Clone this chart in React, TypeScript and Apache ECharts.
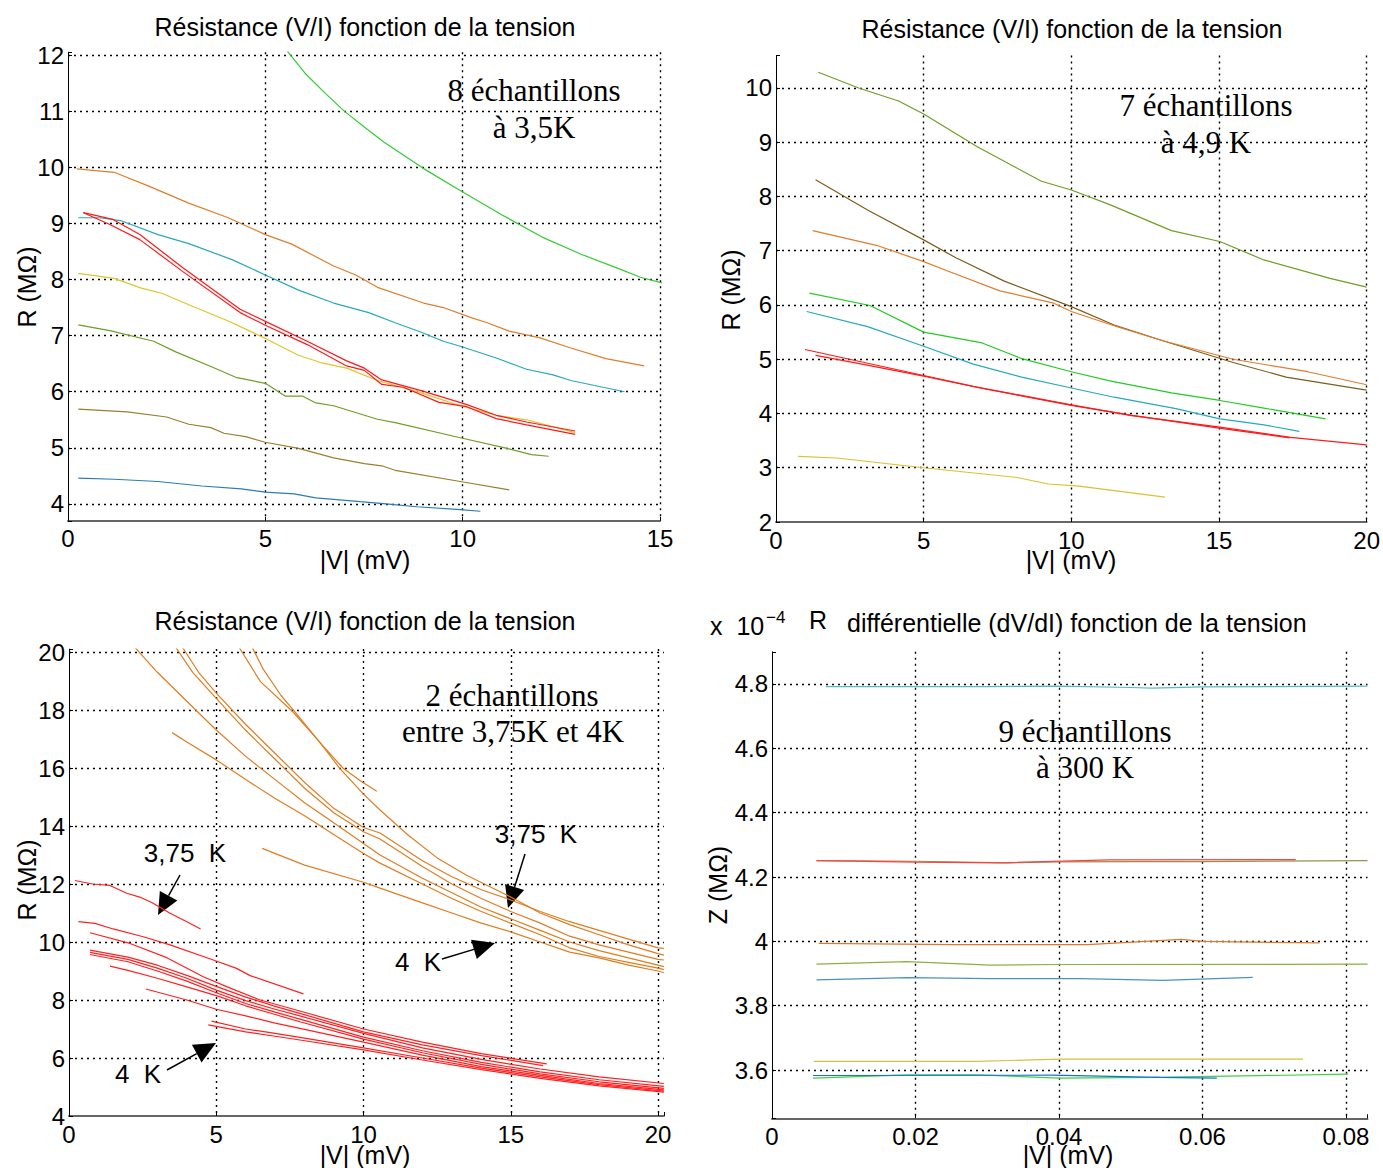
import React, { useEffect, useRef } from 'react';
import * as echarts from 'echarts';

// ---------- Panel 1 : 8 échantillons à 3,5K ----------
const p1Green = [[5.5,12.12],[6.0,11.68],[6.5,11.33],[7.0,11.0],[7.5,10.72],[8.0,10.45],[9.0,9.98],[10.0,9.56],[11.0,9.15],[12.0,8.76],[13.0,8.45],[14.0,8.18],[14.5,8.04],[15.05,7.94]];
const p1Orange = [[0.22,9.97],[1.17,9.91],[2.06,9.66],[3.06,9.36],[4.06,9.1],[5.0,8.8],[5.67,8.63],[6.73,8.24],[7.29,8.08],[7.84,7.86],[9.01,7.58],[9.51,7.5],[10.18,7.33],[10.62,7.23],[11.18,7.08],[11.96,6.96],[12.74,6.78],[13.63,6.59],[14.6,6.46]];
const p1Cyan = [[0.26,9.1],[0.8,9.1],[1.33,9.05],[2.28,8.8],[3.06,8.64],[4.17,8.35],[5.0,8.08],[5.84,7.81],[6.73,7.58],[7.62,7.41],[8.29,7.23],[8.95,7.06],[9.51,6.9],[9.94,6.81],[10.85,6.6],[11.62,6.4],[12.29,6.3],[12.74,6.2],[14.1,6.0]];
const p1RedA = [[0.39,9.19],[1.14,9.07],[1.82,8.8],[2.91,8.21],[4.36,7.47],[5.04,7.24],[6.06,6.9],[7.06,6.55],[7.51,6.42],[7.95,6.21],[8.95,6.02],[10.07,5.78],[10.85,5.58],[11.62,5.46],[12.85,5.3]];
const p1RedB = [[0.39,9.19],[1.06,8.98],[1.82,8.71],[2.91,8.14],[4.36,7.41],[5.04,7.17],[6.06,6.84],[7.06,6.46],[7.51,6.38],[7.95,6.13],[8.5,6.08],[9.4,5.81],[10.07,5.74],[10.85,5.52],[11.62,5.41],[12.85,5.24]];
const p1Yellow = [[0.26,8.11],[1.17,8.02],[1.84,7.85],[2.39,7.75],[3.06,7.55],[4.06,7.26],[5.0,6.95],[5.84,6.65],[6.4,6.52],[7.06,6.42],[7.84,6.2],[8.95,5.98],[9.94,5.75],[10.85,5.58],[11.62,5.5],[12.85,5.27]];
const p1Olive = [[0.26,7.19],[1.06,7.09],[2.17,6.9],[2.73,6.71],[3.62,6.45],[4.28,6.25],[5.0,6.15],[5.51,5.92],[5.95,5.92],[6.28,5.8],[6.73,5.75],[7.84,5.51],[8.29,5.45],[9.94,5.18],[11.07,5.0],[11.74,4.88],[12.18,4.85]];
const p1Brown = [[0.26,5.69],[1.5,5.64],[2.5,5.55],[3.06,5.42],[3.62,5.36],[3.95,5.26],[4.5,5.2],[5.0,5.1],[5.84,4.99],[6.73,4.82],[7.51,4.72],[7.95,4.68],[8.29,4.6],[9.94,4.4],[11.18,4.25]];
const p1Blue = [[0.26,4.46],[1.17,4.44],[2.28,4.4],[3.39,4.32],[4.39,4.27],[5.0,4.21],[5.73,4.18],[6.28,4.11],[7.4,4.04],[8.06,4.0],[8.84,3.95],[9.94,3.9],[10.45,3.87]];

// ---------- Panel 2 : 7 échantillons à 4,9 K ----------
const p2Olive = [[1.43,10.29],[2.8,10.0],[4.15,9.76],[5.0,9.52],[6.83,8.91],[8.99,8.28],[10.0,8.12],[11.3,7.85],[13.39,7.37],[15.03,7.17],[16.52,6.83],[18.76,6.49],[20,6.33]];
const p2Brown = [[1.34,8.31],[3.1,7.75],[5.0,7.2],[6.09,6.87],[7.73,6.44],[10.0,5.97],[11.45,5.63],[13.1,5.34],[15.48,4.94],[17.27,4.67],[20,4.43]];
const p2Orange = [[1.24,7.37],[3.4,7.1],[5.0,6.8],[5.79,6.63],[7.58,6.26],[9.37,6.04],[10.0,5.88],[11.6,5.59],[13.1,5.34],[15.48,5.0],[18.0,4.77],[20,4.53]];
const p2Green = [[1.13,6.22],[3.18,5.99],[5.0,5.5],[6.98,5.3],[8.32,5.01],[10.0,4.77],[11.3,4.6],[13.39,4.38],[15.03,4.24],[16.52,4.1],[18.61,3.9]];
const p2Cyan = [[1.04,5.88],[3.1,5.6],[5.0,5.24],[6.68,4.91],[8.32,4.67],[10.0,4.47],[11.45,4.3],[13.54,4.09],[15.03,3.9],[16.52,3.79],[17.72,3.67]];
const p2RedA = [[0.98,5.18],[5.0,4.7],[6.68,4.5],[10.0,4.16],[12.05,3.96],[15.03,3.75],[17.42,3.56],[20,3.42]];
const p2RedB = [[1.34,5.07],[3.0,4.9],[5.0,4.69],[7.0,4.46],[10.0,4.15],[12.0,3.97],[15.0,3.73],[17.4,3.55]];
const p2Yellow = [[0.75,3.21],[2.06,3.18],[5.0,3.0],[8.17,2.82],[9.22,2.7],[10.26,2.66],[11.45,2.58],[13.17,2.46]];

// ---------- Panel 3 : 2 échantillons entre 3,75K et 4K ----------
const p3OrA = [[5.75,20.2],[6.5,18.98],[7.6,17.94],[8.5,16.91],[9.2,15.98],[10.0,15.1],[10.56,14.55],[11.5,13.7],[12.5,12.9],[13.5,12.3],[14.5,11.8],[15,11.55],[16,11.0],[17,10.6],[18,10.25],[19,9.9],[20,9.6],[20.2,9.55]];
const p3OrShort = [[6.2,20.2],[6.6,19.4],[7.2,18.5],[7.7,17.9],[8.5,16.9],[9.3,16.0],[9.9,15.55],[10.45,15.2]];
const p3OrB = [[3.83,20.2],[4.4,19.3],[5,18.58],[6,17.5],[7,16.5],[8,15.5],[9,14.6],[10,13.95],[10.56,13.76],[12,12.8],[13,12.25],[14,11.8],[15,11.45],[16,11.05],[17,10.7],[18,10.4],[19,10.1],[20,9.8],[20.2,9.78]];
const p3OrC = [[3.6,20.2],[4.2,19.3],[5,18.4],[6,17.3],[7,16.3],[8,15.3],[9,14.45],[10,13.8],[10.56,13.55],[12,12.6],[13,12.0],[14,11.5],[15,11.05],[16,10.65],[17,10.2],[18,9.9],[19,9.65],[20,9.4],[20.2,9.38]];
const p3OrD = [[2.2,20.2],[3,19.3],[4,18.3],[5,17.31],[6,16.4],[7,15.6],[8,14.8],[9,14.1],[10,13.4],[10.56,13.0],[12,12.2],[13,11.7],[14,11.2],[15,10.8],[16,10.4],[17,10.0],[18,9.7],[19,9.45],[20,9.2],[20.2,9.15]];
const p3OrE = [[3.5,17.22],[4,16.9],[5,16.28],[6,15.6],[7,14.95],[8,14.35],[9,13.7],[10,13.05],[10.56,12.72],[12,12.0],[13,11.5],[14,11.05],[15,10.65],[16,10.25],[17,9.8],[18,9.5],[19,9.3],[20,9.1],[20.2,9.05]];
const p3OrF = [[6.56,13.23],[8,12.65],[10,12.06],[10.56,11.86],[12,11.35],[13,11.0],[14,10.65],[15,10.35],[16,10.0],[17,9.65],[18,9.45],[19,9.2],[20,9.0],[20.2,8.94]];
const p3Red375 = [[0.2,12.12],[0.8,12.0],[1.39,11.95],[1.96,11.68],[2.4,11.55],[2.81,11.36],[3.43,10.99],[4.0,10.7],[4.47,10.45]];
const p3R1 = [[0.32,10.7],[0.88,10.64],[1.5,10.45],[2.52,10.18],[3.43,9.9],[4.9,9.38],[5.69,9.09],[6.15,8.84],[7.96,8.21]];
const p3R2 = [[0.71,10.32],[2.07,9.95],[3.32,9.46],[4.56,8.8],[5.35,8.46],[6.49,8.0],[7.84,7.62],[10,7.0],[12,6.55],[14,6.15],[16.22,5.8]];
const p3R3 = [[0.71,9.72],[2,9.48],[3,9.2],[4,8.85],[5,8.47],[6,8.1],[7,7.78],[7.84,7.54],[10,6.9],[12,6.45],[14,6.08],[16.1,5.74]];
const p3R4 = [[0.71,9.64],[2,9.4],[3,9.1],[4,8.75],[5,8.34],[6,7.98],[7,7.68],[7.84,7.45],[10,6.85],[12,6.35],[14,5.95],[16,5.62],[18,5.35],[20.2,5.12]];
const p3R5 = [[0.71,9.57],[2,9.32],[3,9.0],[4,8.65],[5,8.25],[6,7.88],[7,7.58],[7.84,7.34],[10,6.72],[12,6.25],[14,5.85],[16,5.52],[18,5.25],[20.2,5.02]];
const p3R6 = [[1.39,9.17],[2,9.02],[3,8.75],[4,8.45],[5,8.15],[6,7.8],[7,7.5],[7.84,7.25],[10,6.65],[12,6.18],[14,5.78],[16,5.45],[18,5.18],[20.2,4.95]];
const p3R7 = [[2.61,8.38],[4,8.0],[5,7.68],[6,7.45],[7,7.2],[7.84,7.02],[10,6.55],[12,6.1],[14,5.7],[16,5.4],[18,5.12],[20.2,4.9]];
const p3R8 = [[4.84,7.27],[6,7.0],[7,6.85],[7.84,6.71],[10,6.35],[12,6.0],[14,5.65],[16,5.35],[18,5.08],[20.2,4.86]];
const p3R9 = [[4.73,7.14],[6,6.9],[7,6.75],[7.84,6.62],[10,6.28],[12,5.93],[14,5.6],[16,5.3],[18,5.04],[20.2,4.82]];

// ---------- Panel 4 : 9 échantillons à 300 K (x 1e-4) ----------
const p4Cyan = [[0.0075,4.792],[0.02,4.792],[0.03,4.792],[0.04,4.793],[0.05,4.789],[0.053,4.787],[0.06,4.791],[0.07,4.792],[0.083,4.793]];
const p4Red = [[0.0062,4.251],[0.02,4.246],[0.032,4.244],[0.047,4.253],[0.073,4.254]];
const p4Olive = [[0.0062,4.251],[0.02,4.249],[0.033,4.244],[0.04,4.247],[0.05,4.248],[0.06,4.248],[0.083,4.251]];
const p4Orange = [[0.0065,3.994],[0.0255,3.99],[0.044,3.99],[0.057,4.006],[0.06,4.0],[0.0763,3.995]];
const p4GreenOlive = [[0.0062,3.929],[0.0188,3.937],[0.0305,3.926],[0.04,3.928],[0.083,3.929]];
const p4Blue = [[0.0062,3.88],[0.0188,3.887],[0.0305,3.884],[0.043,3.884],[0.0545,3.879],[0.067,3.888]];
const p4Yellow = [[0.0058,3.627],[0.0286,3.627],[0.04,3.634],[0.074,3.634]];
const p4Blue2 = [[0.0057,3.583],[0.039,3.584],[0.054,3.577],[0.062,3.575]];
const p4Green = [[0.0057,3.575],[0.019,3.585],[0.0286,3.585],[0.04,3.575],[0.053,3.577],[0.0803,3.587]];

const SANS = '"Liberation Sans", Arial, sans-serif';
const SERIF = '"Liberation Serif", "Times New Roman", serif';

function fmt(step: number) {
  return (v: number) => {
    const r = v / step;
    return Math.abs(r - Math.round(r)) < 1e-6 ? String(parseFloat(v.toFixed(4))) : '';
  };
}

function mkX(gi: number, min: number, max: number, step: number, showMax: boolean) {
  return {
    type: 'value', gridIndex: gi, min, max, minInterval: step, maxInterval: step,
    axisLine: { show: true, onZero: false, lineStyle: { color: '#666', width: 2 } },
    axisTick: { show: true, inside: true, length: 4, lineStyle: { color: '#000' } },
    axisLabel: { color: '#000', fontSize: 24, fontFamily: SANS, margin: 6, formatter: fmt(step) },
    splitLine: { show: true, showMinLine: false, showMaxLine: showMax, lineStyle: { color: '#000', type: [2, 4], width: 1.4 } },
  };
}
function mkY(gi: number, min: number, max: number, step: number, showMax: boolean) {
  return {
    type: 'value', gridIndex: gi, min, max, minInterval: step, maxInterval: step,
    axisLine: { show: true, onZero: false, lineStyle: { color: '#000', width: 1 } },
    axisTick: { show: true, inside: true, length: 4, lineStyle: { color: '#000' } },
    axisLabel: { color: '#000', fontSize: 24, fontFamily: SANS, margin: 4, formatter: fmt(step) },
    splitLine: { show: true, showMinLine: false, showMaxLine: showMax, lineStyle: { color: '#000', type: [2, 4], width: 1.4 } },
  };
}
function mkS(data: number[][], color: string, gi: number) {
  return {
    type: 'line', xAxisIndex: gi, yAxisIndex: gi, data, showSymbol: false, symbol: 'none',
    silent: true, clip: true, lineStyle: { color, width: 1.2 }, itemStyle: { color },
  };
}
function txt(text: string, x: number, y: number, font: string, align = 'center', rotation = 0) {
  return {
    type: 'text', x, y, rotation, silent: true,
    style: { text, fill: '#000', font, align, verticalAlign: 'middle', textAlign: align, textVerticalAlign: 'middle' },
  };
}
function arrow(x1: number, y1: number, tx: number, ty: number) {
  const dx = tx - x1, dy = ty - y1;
  const len = Math.sqrt(dx * dx + dy * dy);
  const ux = dx / len, uy = dy / len;
  const L = 22, Wd = 10;
  const bx = tx - ux * L, by = ty - uy * L;
  return [
    { type: 'line', silent: true, shape: { x1, y1, x2: bx, y2: by }, style: { stroke: '#000', lineWidth: 1.5 } },
    { type: 'polygon', silent: true, shape: { points: [[tx, ty], [bx - uy * Wd, by + ux * Wd], [bx + uy * Wd, by - ux * Wd]] }, style: { fill: '#000' } },
  ];
}

export default function App() {
  const ref = useRef<HTMLDivElement>(null);
  useEffect(() => {
    if (!ref.current) return;
    const chart = echarts.init(ref.current, null, { renderer: 'svg' });
    const TF = `25px ${SANS}`;
    const AF = `25px ${SANS}`;
    const SF = `31px ${SERIF}`;
    const KF = `26px ${SANS}`;
    const option: any = {
      animation: false,
      backgroundColor: '#fff',
      grid: [
        { left: 68, top: 52.2, width: 592, height: 468.6 },
        { left: 776, top: 55.4, width: 591, height: 466.6 },
        { left: 69, top: 649.1, width: 594.9, height: 466.9 },
        { left: 772, top: 651.8, width: 595.5, height: 466.5 },
      ],
      xAxis: [
        mkX(0, 0, 15, 5, true),
        mkX(1, 0, 20, 5, true),
        mkX(2, 0, 20.2, 5, false),
        mkX(3, 0, 0.083, 0.02, false),
      ],
      yAxis: [
        mkY(0, 3.7, 12.05, 1, false),
        mkY(1, 2, 10.6, 1, false),
        mkY(2, 4, 20.1, 2, false),
        mkY(3, 3.45, 4.9, 0.2, false),
      ],
      series: [
        mkS(p1Green, '#33cc33', 0),
        mkS(p1Orange, '#e07d2a', 0),
        mkS(p1Cyan, '#26a9bd', 0),
        mkS(p1Yellow, '#e3c32a', 0),
        mkS(p1Olive, '#6e9e23', 0),
        mkS(p1Brown, '#9b7e2e', 0),
        mkS(p1Blue, '#2c7bb6', 0),
        mkS(p1RedA, '#ff1a1a', 0),
        mkS(p1RedB, '#ff1a1a', 0),

        mkS(p2Olive, '#6e9e23', 1),
        mkS(p2Brown, '#7d5d1c', 1),
        mkS(p2Orange, '#e07d2a', 1),
        mkS(p2Green, '#22cc22', 1),
        mkS(p2Cyan, '#26a9bd', 1),
        mkS(p2RedA, '#ff1a1a', 1),
        mkS(p2RedB, '#ff1a1a', 1),
        mkS(p2Yellow, '#dcc030', 1),

        mkS(p3OrA, '#e07d20', 2),
        mkS(p3OrShort, '#e07d20', 2),
        mkS(p3OrB, '#e07d20', 2),
        mkS(p3OrC, '#e07d20', 2),
        mkS(p3OrD, '#e07d20', 2),
        mkS(p3OrE, '#e07d20', 2),
        mkS(p3OrF, '#e07d20', 2),
        mkS(p3Red375, '#ff2020', 2),
        mkS(p3R1, '#ff2020', 2),
        mkS(p3R2, '#ff2020', 2),
        mkS(p3R3, '#ff2020', 2),
        mkS(p3R4, '#ff2020', 2),
        mkS(p3R5, '#ff2020', 2),
        mkS(p3R6, '#ff2020', 2),
        mkS(p3R7, '#ff2020', 2),
        mkS(p3R8, '#ff2020', 2),
        mkS(p3R9, '#ff2020', 2),

        mkS(p4Cyan, '#55bcc4', 3),
        mkS(p4Olive, '#9a9050', 3),
        mkS(p4Red, '#ff4040', 3),
        mkS(p4Orange, '#e0782a', 3),
        mkS(p4GreenOlive, '#8ab040', 3),
        mkS(p4Blue, '#4a92c0', 3),
        mkS(p4Yellow, '#d8c040', 3),
        mkS(p4Green, '#40d040', 3),
        mkS(p4Blue2, '#1a6ee0', 3),
      ],
      graphic: [
        txt('Résistance (V/I) fonction de la tension', 365, 27, TF),
        txt('Résistance (V/I) fonction de la tension', 1072, 29, TF),
        txt('Résistance (V/I) fonction de la tension', 365, 621, TF),
        txt('x  10', 710, 626, TF, 'left'),
        txt('−4', 766, 617, `17px ${SANS}`, 'left'),
        txt('R', 818, 620, TF),
        txt('différentielle (dV/dI) fonction de la tension', 847, 623, TF, 'left'),

        txt('R (MΩ)', 27, 287, AF, 'center', Math.PI / 2),
        txt('|V| (mV)', 365, 560, AF),
        txt('R (MΩ)', 731, 290, AF, 'center', Math.PI / 2),
        txt('|V| (mV)', 1071, 560, AF),
        txt('R (MΩ)', 27, 880, AF, 'center', Math.PI / 2),
        txt('|V| (mV)', 365, 1155, AF),
        txt('Z (MΩ)', 718, 885, AF, 'center', Math.PI / 2),
        txt('|V| (mV)', 1068, 1155, AF),

        txt('8 échantillons', 534, 90, SF),
        txt('à 3,5K', 534, 127, SF),
        txt('7 échantillons', 1206, 105, SF),
        txt('à 4,9 K', 1206, 142, SF),
        txt('2 échantillons', 512, 695, SF),
        txt('entre 3,75K et 4K', 513, 731, SF),
        txt('9 échantillons', 1085, 731, SF),
        txt('à 300 K', 1085, 767, SF),

        txt('3,75  K', 185, 853, KF),
        txt('4  K', 138, 1074, KF),
        txt('3,75  K', 536, 834, KF),
        txt('4  K', 418, 962, KF),
        ...arrow(180, 875, 158, 915),
        ...arrow(167, 1070, 216, 1043),
        ...arrow(525, 854, 508, 908),
        ...arrow(442, 959, 495, 943),
      ],
    };
    chart.setOption(option);
    return () => chart.dispose();
  }, []);
  return <div ref={ref} style={{ position: 'fixed', left: 0, top: 0, width: 1383, height: 1168, background: '#fff' }} />;
}
